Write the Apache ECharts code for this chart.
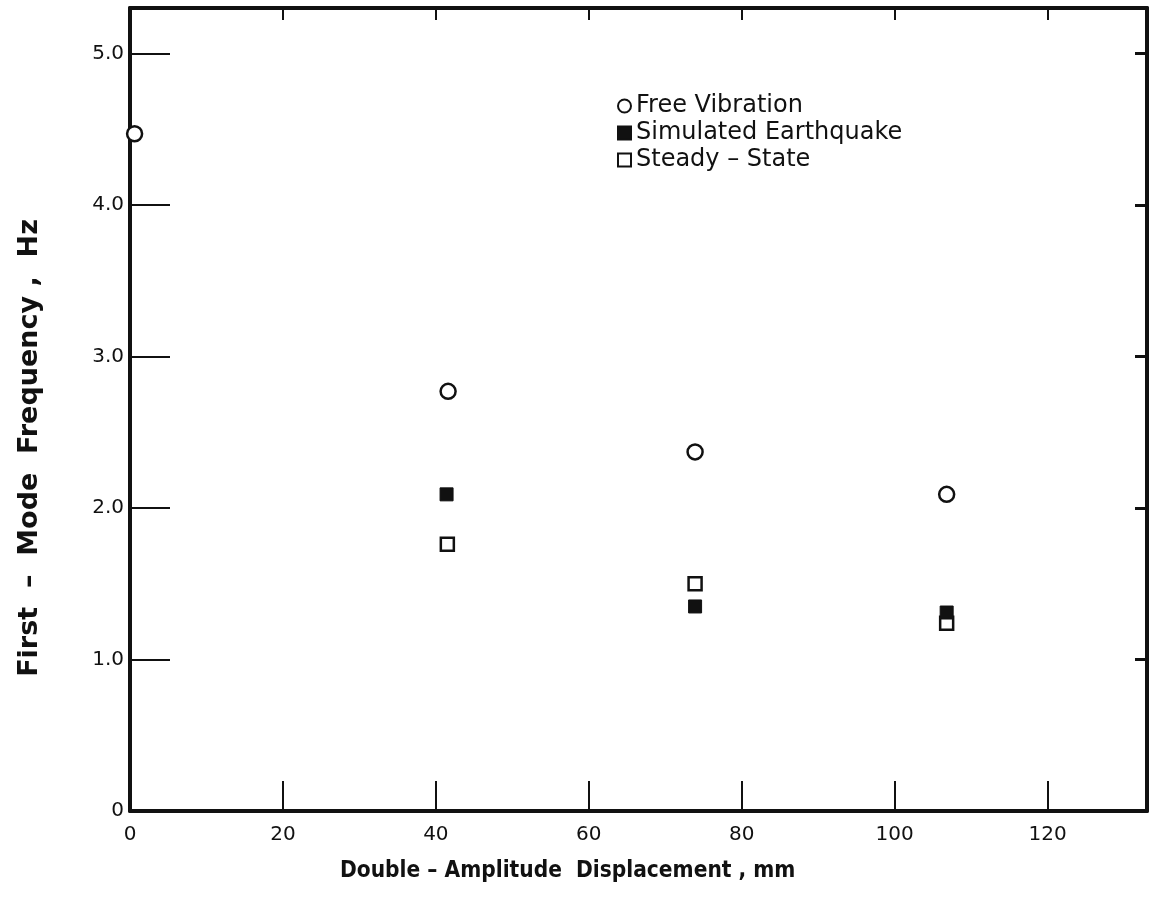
<!DOCTYPE html>
<html>
<head>
<meta charset="utf-8">
<title>First-Mode Frequency vs Double-Amplitude Displacement</title>
<script src="https://cdn.jsdelivr.net/npm/echarts@6/dist/echarts.min.js"></script>
<style>
  html, body { margin: 0; padding: 0; background: #fff; }
  #chart { width: 1151px; height: 915px; }
</style>
</head>
<body>
<div id="chart"></div>
<script>
// Measured first-mode frequency (Hz) against double-amplitude displacement (mm)
const seriesNames = ['Free Vibration', 'Simulated Earthquake', 'Steady \u2013 State'];
const freeVibrationX = [0.6, 41.6, 73.9, 106.8];
const freeVibrationY = [4.47, 2.77, 2.37, 2.09];
const earthquakeX = [41.4, 73.9, 106.8];
const earthquakeY = [2.09, 1.35, 1.31];
const steadyStateX = [41.5, 73.9, 106.8];
const steadyStateY = [1.76, 1.50, 1.24];
const xTicks = [0, 20, 40, 60, 80, 100, 120];
const yTicks = [0, 1, 2, 3, 4, 5];

const INK = '#111';
const FONT = '"DejaVu Sans", "Liberation Sans", sans-serif';

function pairs(xs, ys) { return xs.map((x, i) => [x, ys[i]]); }

const chart = echarts.init(document.getElementById('chart'), null, { renderer: 'canvas' });

const xBase = {
  type: 'value', min: 0, max: 133, interval: 20,
  splitLine: { show: false },
  axisLine: { show: true, onZero: false, lineStyle: { color: INK, width: 4 } }
};
const yBase = {
  type: 'value', min: 0, max: 5.3, interval: 1,
  splitLine: { show: false },
  axisLine: { show: true, onZero: false, lineStyle: { color: INK, width: 4 } }
};

chart.setOption({
  animation: false,
  backgroundColor: '#fff',
  grid: { left: 130, right: 4, top: 8, bottom: 104, containLabel: false },
  xAxis: [
    Object.assign({}, xBase, {
      position: 'bottom',
      axisTick: { show: true, inside: true, length: 30, lineStyle: { color: INK, width: 2 } },
      axisLabel: {
        show: true, showMaxLabel: false, color: INK, fontFamily: FONT, fontSize: 20, margin: 14,
        formatter: v => xTicks.indexOf(v) >= 0 ? String(v) : ''
      }
    }),
    Object.assign({}, xBase, {
      position: 'top',
      axisTick: { show: true, inside: true, length: 12, lineStyle: { color: INK, width: 2 } },
      axisLabel: { show: false }
    })
  ],
  yAxis: [
    Object.assign({}, yBase, {
      position: 'left',
      axisTick: { show: true, inside: true, length: 40, lineStyle: { color: INK, width: 2 } },
      axisLabel: {
        show: true, showMaxLabel: false, color: INK, fontFamily: FONT, fontSize: 20, margin: 6,
        formatter: v => yTicks.indexOf(v) < 0 ? '' : (v === 0 ? '0' : v.toFixed(1))
      }
    }),
    Object.assign({}, yBase, {
      position: 'right',
      axisTick: { show: true, inside: true, length: 12, lineStyle: { color: INK, width: 3 } },
      axisLabel: { show: false }
    })
  ],
  legend: {
    orient: 'vertical',
    left: 612, top: 89,
    itemWidth: 13, itemHeight: 13, itemGap: 3,
    textStyle: { color: INK, fontFamily: FONT, fontSize: 24, padding: [0, 0, 0, 0] },
    data: [
      { name: seriesNames[0], icon: 'circle' },
      { name: seriesNames[1], icon: 'rect' },
      { name: seriesNames[2], icon: 'rect' }
    ]
  },
  series: [
    {
      name: seriesNames[0], type: 'scatter', symbol: 'circle', symbolSize: 15,
      data: pairs(freeVibrationX, freeVibrationY),
      itemStyle: { color: '#fff', borderColor: INK, borderWidth: 2.5, opacity: 1 },
      z: 5
    },
    {
      name: seriesNames[1], type: 'scatter', symbol: 'rect', symbolSize: 13,
      data: pairs(earthquakeX, earthquakeY),
      itemStyle: { color: INK, borderColor: INK, borderWidth: 1, opacity: 1 },
      z: 4
    },
    {
      name: seriesNames[2], type: 'scatter', symbol: 'rect', symbolSize: 13,
      data: pairs(steadyStateX, steadyStateY),
      itemStyle: { color: '#fff', borderColor: INK, borderWidth: 2.5, opacity: 1 },
      z: 3
    }
  ],
  graphic: [
    {
      type: 'text', x: 340, y: 860, scaleX: 0.88,
      style: { text: 'Double \u2013 Amplitude  Displacement , mm', fill: INK,
               font: 'bold 23px ' + FONT }
    },
    {
      type: 'text', x: 30, y: 448, rotation: Math.PI / 2,
      style: { text: 'First  \u2013  Mode  Frequency ,  Hz', fill: INK,
               font: 'bold 27px ' + FONT, align: 'center', verticalAlign: 'middle' }
    }
  ]
});
</script>
</body>
</html>
